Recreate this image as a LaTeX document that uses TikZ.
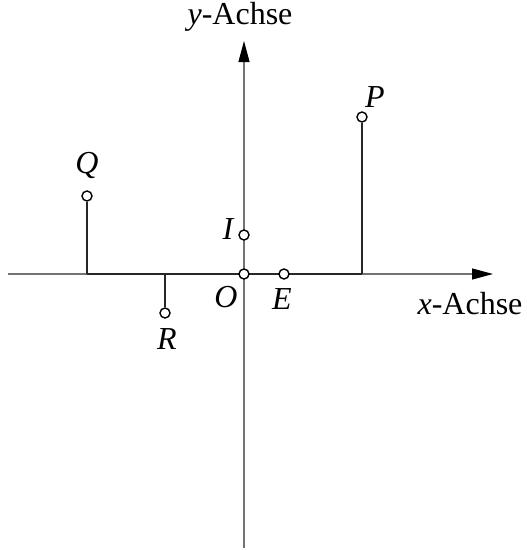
\documentclass[tikz,border=0pt]{standalone}
\usepackage{fontspec}
\setmainfont{Liberation Serif}
\usetikzlibrary{arrows.meta}
\begin{document}
\begin{tikzpicture}[x=1pt,y=-1pt,
  axis/.style={draw=black!55,line width=1.1pt},
  tip/.style={-{Triangle[length=21pt,width=11pt,color=black]}},
  seg/.style={draw=black!85,line width=2.2pt},
  pt/.style={circle,draw=black,line width=1.4pt,fill=white,inner sep=0pt,minimum size=10pt},
  lab/.style={font=\fontsize{32}{36}\selectfont\itshape,inner sep=0pt},
  axlab/.style={font=\fontsize{32}{36}\selectfont,inner sep=0pt}]
\useasboundingbox (0,0) rectangle (527,550);
% coordinates
\coordinate (xs) at (8,274);
\coordinate (xe) at (493,274);
\coordinate (ys) at (244,548);
\coordinate (ye) at (244,41);
\coordinate (Pf) at (362,274);
\coordinate (Qf) at (87,274);
\coordinate (Rf) at (165,274);
% axes
\draw[axis,tip] (xs) -- (xe);
\draw[axis,tip] (ys) -- (ye);
% thick segments
\draw[seg] (Qf) -- (Pf);
\node[pt] (P) at (362,117) {};
\node[pt] (Q) at (87,196) {};
\node[pt] (R) at (165,313) {};
\draw[seg] (Pf) -- (P);
\draw[seg] (Qf) -- (Q);
\draw[seg] (Rf) -- (R);
\node[pt] (O) at (244,274) {};
\node[pt] (E) at (284,274) {};
\node[pt] (I) at (244,235) {};
% labels
\node[lab] (lP) at (375,97) {P};
\node[lab] (lQ) at (87,165) {Q};
\node[lab] (lR) at (167,339) {R};
\node[lab] (lI) at (228,229) {I};
\node[lab] (lO) at (226,297) {O};
\node[lab] (lE) at (282,299) {E};
\node[axlab] (ya) at (240,17) {\textit{y}-Achse};
\node[axlab] (xa) at (470,304) {\textit{x}-Achse};
\end{tikzpicture}
\end{document}
